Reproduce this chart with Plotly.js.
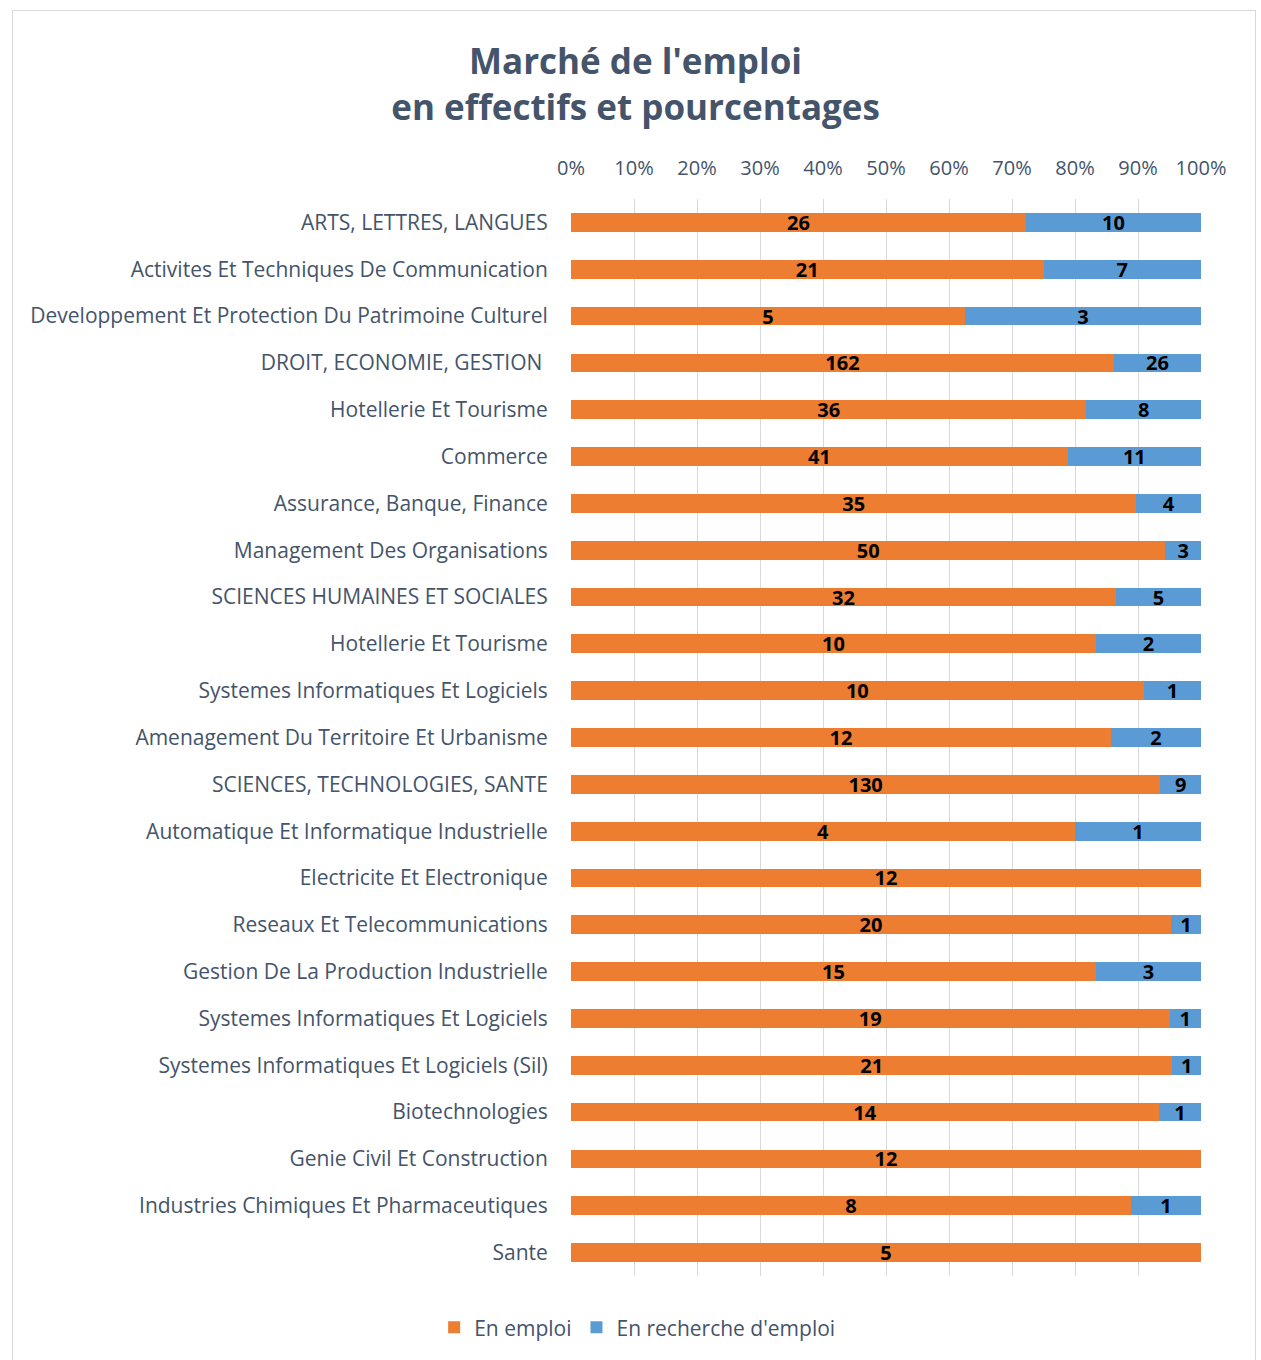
<!DOCTYPE html>
<html>
<head>
<meta charset="utf-8">
<script src="https://cdn.plot.ly/plotly-3.0.1.min.js"></script>
<style>
  html, body { margin: 0; padding: 0; background: #fff; }
  #wrap { position: relative; width: 1261px; height: 1360px; }
  #chart { position: absolute; left: 0; top: 0; width: 1261px; height: 1360px; }
  #frame { position: absolute; left: 12px; top: 10px; width: 1244px; height: 1360px;
           border: 1px solid #D9D9D9; box-sizing: border-box; pointer-events: none; }
</style>
</head>
<body>
<div id="wrap">
  <div id="chart"></div>
  <div id="frame"></div>
</div>
<script>
const categories = [
  "ARTS, LETTRES, LANGUES",
  "Activites Et Techniques De Communication",
  "Developpement Et Protection Du Patrimoine Culturel",
  "DROIT, ECONOMIE, GESTION ",
  "Hotellerie Et Tourisme",
  "Commerce",
  "Assurance, Banque, Finance",
  "Management Des Organisations",
  "SCIENCES HUMAINES ET SOCIALES",
  "Hotellerie Et Tourisme",
  "Systemes Informatiques Et Logiciels",
  "Amenagement Du Territoire Et Urbanisme",
  "SCIENCES, TECHNOLOGIES, SANTE",
  "Automatique Et Informatique Industrielle",
  "Electricite Et Electronique",
  "Reseaux Et Telecommunications",
  "Gestion De La Production Industrielle",
  "Systemes Informatiques Et Logiciels",
  "Systemes Informatiques Et Logiciels (Sil)",
  "Biotechnologies",
  "Genie Civil Et Construction",
  "Industries Chimiques Et Pharmaceutiques",
  "Sante"
];
const enEmploi     = [26, 21, 5, 162, 36, 41, 35, 50, 32, 10, 10, 12, 130, 4, 12, 20, 15, 19, 21, 14, 12, 8, 5];
const enRecherche  = [10, 7, 3, 26, 8, 11, 4, 3, 5, 2, 1, 2, 9, 1, 0, 1, 3, 1, 1, 1, 0, 1, 0];
const seriesNames  = ["En emploi", "En recherche d'emploi"];
const xTickVals    = [0, 10, 20, 30, 40, 50, 60, 70, 80, 90, 100];
const xTickText    = ["0%", "10%", "20%", "30%", "40%", "50%", "60%", "70%", "80%", "90%", "100%"];

const positions = categories.map((_, i) => i);
const textColor = "#44546A";
const labelFont = { family: "Open Sans, sans-serif", size: 20, color: "#000000", weight: "bold" };

function makeTrace(values, name, color) {
  return {
    type: "bar",
    orientation: "h",
    name: name,
    y: positions,
    x: values,
    text: values.map(v => v ? String(v) : ""),
    textposition: "inside",
    insidetextanchor: "middle",
    constraintext: "none",
    textangle: 0,
    textfont: labelFont,
    marker: { color: color, line: { width: 0 } },
    hoverinfo: "x+name"
  };
}

const data = [
  makeTrace(enEmploi, seriesNames[0], "#ED7D31"),
  makeTrace(enRecherche, seriesNames[1], "#5B9BD5")
];

const layout = {
  width: 1261,
  height: 1360,
  paper_bgcolor: "#ffffff",
  plot_bgcolor: "rgba(0,0,0,0)",
  barmode: "stack",
  barnorm: "percent",
  bargap: 0.6,
  margin: { l: 571, r: 60, t: 199, b: 81 },
  font: { family: "Open Sans, sans-serif", color: textColor },
  title: {
    text: "<b>Marché de l'emploi<br>en effectifs et pourcentages</b>",
    font: { family: "Open Sans, sans-serif", size: 35, color: textColor },
    xref: "container", x: 0.504, xanchor: "center",
    yref: "container", y: 0.9455, yanchor: "middle"
  },
  xaxis: {
    side: "top",
    range: [0, 100],
    tickvals: xTickVals,
    ticktext: xTickText,
    tickfont: { size: 20, color: textColor },
    showgrid: true,
    gridcolor: "#D9D9D9",
    gridwidth: 1,
    zeroline: false,
    showline: false,
    ticks: "outside",
    ticklen: 15,
    tickcolor: "rgba(0,0,0,0)",
    fixedrange: true
  },
  yaxis: {
    tickvals: positions,
    ticktext: categories,
    range: [categories.length - 0.5, -0.5],
    tickfont: { size: 21, color: textColor },
    showgrid: false,
    zeroline: false,
    showline: false,
    ticks: "outside",
    ticklen: 18,
    tickcolor: "rgba(0,0,0,0)",
    fixedrange: true
  },
  legend: {
    orientation: "h",
    x: 0.105, xanchor: "center",
    y: -0.048, yanchor: "middle",
    font: { size: 21, color: textColor },
    traceorder: "normal",
    itemwidth: 30
  },
  showlegend: true
};

Plotly.newPlot("chart", data, layout, { displayModeBar: false });
</script>
</body>
</html>
